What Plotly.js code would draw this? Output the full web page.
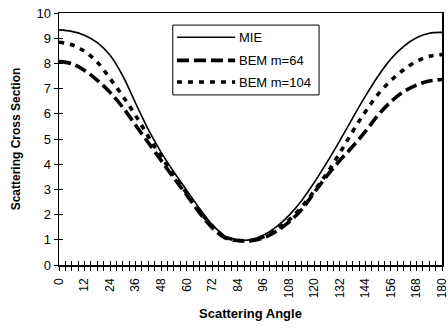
<!DOCTYPE html>
<html>
<head>
<meta charset="utf-8">
<script src="https://cdn.plot.ly/plotly-3.0.1.min.js"></script>
<style>html,body{margin:0;padding:0;background:#fff;}#chart{width:448px;height:328px;}</style>
</head>
<body>
<div id="chart"></div>
<script>
var angles = [0,6,12,18,24,30,36,42,48,54,60,66,72,78,84,90,96,102,108,114,120,126,132,138,144,150,156,162,168,174,180];
var mie    = [9.33,9.27,9.12,8.82,8.32,7.50,6.42,5.37,4.47,3.69,2.97,2.25,1.60,1.15,1.00,1.00,1.18,1.50,1.96,2.55,3.28,4.08,4.94,5.83,6.70,7.50,8.18,8.68,9.02,9.20,9.23];
var bem64  = [8.07,7.99,7.72,7.33,6.85,6.25,5.55,4.85,4.15,3.45,2.78,2.08,1.48,1.08,0.97,0.96,1.08,1.33,1.70,2.20,2.88,3.55,4.15,4.70,5.30,5.95,6.48,6.88,7.14,7.30,7.36];
var bem104 = [8.84,8.74,8.48,8.05,7.40,6.70,5.93,5.10,4.30,3.55,2.85,2.15,1.55,1.12,0.98,0.97,1.12,1.40,1.78,2.30,2.95,3.65,4.45,5.30,6.08,6.78,7.32,7.75,8.08,8.28,8.35];
var seriesNames = ["MIE","BEM m=64","BEM m=104"];
var xTickVals = [0,12,24,36,48,60,72,84,96,108,120,132,144,156,168,180];
var yTickVals = [0,1,2,3,4,5,6,7,8,9,10];

var F = "Liberation Sans, Arial, sans-serif";
var styles = [
  {color:"#000", width:1.6, dash:"solid"},
  {color:"#000", width:3.6, dash:"12px,5px"},
  {color:"#000", width:3.6, dash:"5px,6px"}
];
var ys = [mie, bem64, bem104];
var traces = ys.map(function(v,i){
  return {x:angles, y:v, name:seriesNames[i], mode:"lines", type:"scatter",
          line:{color:styles[i].color, width:styles[i].width, dash:styles[i].dash, shape:"spline", smoothing:1},
          showlegend:false, hoverinfo:"skip"};
});
// helper invisible trace to carry the inner-tick overlay axes
traces.push({x:angles, y:mie, xaxis:"x2", yaxis:"y2", mode:"lines", line:{width:0, color:"rgba(0,0,0,0)"}, showlegend:false, hoverinfo:"skip"});

// custom legend (paper coords)
var L = {x0:0.297, x1:0.679, y0:0.675, y1:0.952};
var rows = [0.904, 0.812, 0.726];
var shapes = [{type:"rect", xref:"paper", yref:"paper", x0:L.x0, x1:L.x1, y0:L.y0, y1:L.y1, line:{color:"#000", width:1}, fillcolor:"#fff", layer:"above"}];
var annotations = [];
for (var i=0;i<3;i++){
  shapes.push({type:"line", xref:"paper", yref:"paper", x0:0.308, x1:0.46, y0:rows[i], y1:rows[i],
               line:{color:"#000", width:styles[i].width, dash:styles[i].dash}, layer:"above"});
  annotations.push({xref:"paper", yref:"paper", x:0.464, y:rows[i], xanchor:"left", yanchor:"middle",
               text:seriesNames[i], showarrow:false, font:{family:F, size:13, color:"#000"}});
}

var layout = {
  width:448, height:328,
  margin:{l:59, r:6, t:13, b:62.5, pad:0},
  paper_bgcolor:"#fff", plot_bgcolor:"#fff",
  showlegend:false,
  xaxis:{range:[0,180], tickvals:xTickVals, ticktext:xTickVals.map(String), tickangle:-90,
         ticks:"outside", ticklen:4, tickwidth:1, tickcolor:"#000", ticklabeloverflow:"allow", ticklabelstandoff:3,
         minor:{dtick:3, tick0:0, ticks:"outside", ticklen:4, tickwidth:1, tickcolor:"#000"},
         showline:true, linecolor:"#000", linewidth:1.5, mirror:true, showgrid:false, zeroline:false,
         tickfont:{family:F, size:12, color:"#000"},
         title:{text:"<b>Scattering Angle</b>", font:{family:F, size:13, color:"#000"}, standoff:11}},
  xaxis2:{range:[0,180], overlaying:"x", anchor:"y", side:"bottom", dtick:3, tick0:0,
          ticks:"inside", ticklen:4, tickwidth:1, tickcolor:"#000", showticklabels:false,
          showgrid:false, zeroline:false, showline:false},
  yaxis:{range:[0,10], tickvals:yTickVals, ticks:"outside", ticklen:4, tickwidth:1, tickcolor:"#000",
         showline:true, linecolor:"#000", linewidth:1.5, mirror:true, showgrid:false, zeroline:false,
         tickfont:{family:F, size:13, color:"#000"},
         title:{text:"<b>Scattering Cross Section</b>", font:{family:F, size:12, color:"#000"}, standoff:13}},
  yaxis2:{range:[0,10], overlaying:"y", anchor:"x", side:"left", dtick:1, tick0:0,
          ticks:"inside", ticklen:4, tickwidth:1, tickcolor:"#000", showticklabels:false,
          showgrid:false, zeroline:false, showline:false},
  shapes:shapes,
  annotations:annotations
};
Plotly.newPlot("chart", traces, layout, {staticPlot:true, displayModeBar:false});
</script>
</body>
</html>
